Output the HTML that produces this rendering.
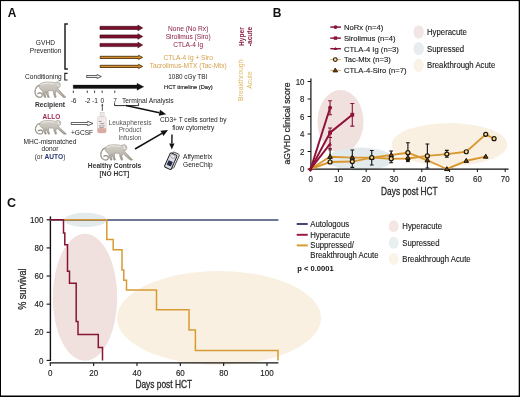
<!DOCTYPE html><html><head><meta charset="utf-8"><style>html,body{margin:0;padding:0;background:#fff;}svg{display:block;will-change:transform;}text{font-family:"Liberation Sans",sans-serif;}</style></head><body>
<svg width="520" height="397" viewBox="0 0 520 397">
<defs><linearGradient id="mk" x1="0" y1="0" x2="0" y2="1"><stop offset="0" stop-color="#d6d3cc"/><stop offset="0.55" stop-color="#c2beb5"/><stop offset="1" stop-color="#9c968c"/></linearGradient></defs>
<rect width="520" height="397" fill="#fff"/>
<text x="7.70" y="17.40" font-size="11.9" text-anchor="start" font-weight="bold" fill="#111" >A</text>
<path d="M67.9,23.9 H65.0 V68.9 H67.9" fill="none" stroke="#222" stroke-width="1.5"/>
<text x="45.40" y="45.30" font-size="6.6" text-anchor="middle" font-weight="normal" fill="#222" >GVHD</text>
<text x="45.60" y="52.60" font-size="6.6" text-anchor="middle" font-weight="normal" fill="#222" >Prevention</text>
<text x="43.40" y="79.40" font-size="6.6" text-anchor="middle" font-weight="normal" fill="#222" >Conditioning</text>
<path d="M67.6,73.4 H64.8 V80.0 H67.6" fill="none" stroke="#222" stroke-width="1.1"/>
<path d="M100.0,26.299999999999997 L137.89999999999998,26.299999999999997 L137.89999999999998,25.099999999999998 L142.7,27.9 L137.89999999999998,30.7 L137.89999999999998,29.5 L100.0,29.5 Z" fill="#7a0f2e" stroke="#3a0814" stroke-width="0.6" stroke-linejoin="miter"/>
<path d="M100.0,34.9 L137.89999999999998,34.9 L137.89999999999998,33.7 L142.7,36.5 L137.89999999999998,39.3 L137.89999999999998,38.1 L100.0,38.1 Z" fill="#7a0f2e" stroke="#3a0814" stroke-width="0.6" stroke-linejoin="miter"/>
<path d="M100.0,43.4 L137.89999999999998,43.4 L137.89999999999998,42.2 L142.7,45.0 L137.89999999999998,47.8 L137.89999999999998,46.6 L100.0,46.6 Z" fill="#7a0f2e" stroke="#3a0814" stroke-width="0.6" stroke-linejoin="miter"/>
<path d="M100.2,56.3 L138.6,56.3 L138.6,55.3 L142.6,57.4 L138.6,59.5 L138.6,58.5 L100.2,58.5 Z" fill="#d4902c" stroke="#4a2c08" stroke-width="0.85" stroke-linejoin="miter"/>
<path d="M100.2,65.30000000000001 L138.6,65.30000000000001 L138.6,64.30000000000001 L142.6,66.4 L138.6,68.5 L138.6,67.5 L100.2,67.5 Z" fill="#d4902c" stroke="#4a2c08" stroke-width="0.85" stroke-linejoin="miter"/>
<path d="M86.6,75.5 L97.0,75.5 L97.0,74.5 L101.4,76.5 L97.0,78.5 L97.0,77.5 L86.6,77.5 Z" fill="#eee" stroke="#222" stroke-width="0.7" stroke-linejoin="miter"/>
<path d="M73.2,85.05 L137.0,85.05 L137.0,83.3 L143.8,86.8 L137.0,90.3 L137.0,88.55 L73.2,88.55 Z" fill="#111" stroke="#111" stroke-width="0.3" stroke-linejoin="miter"/>
<line x1="73.3" y1="90.6" x2="73.3" y2="92.9" stroke="#222" stroke-width="0.9"/>
<line x1="87.3" y1="90.6" x2="87.3" y2="92.9" stroke="#222" stroke-width="0.9"/>
<line x1="94.6" y1="90.6" x2="94.6" y2="92.9" stroke="#222" stroke-width="0.9"/>
<line x1="102.2" y1="90.6" x2="102.2" y2="92.9" stroke="#222" stroke-width="0.9"/>
<line x1="114.8" y1="90.6" x2="114.8" y2="92.9" stroke="#222" stroke-width="0.9"/>
<text x="73.60" y="103.00" font-size="6.6" text-anchor="middle" font-weight="normal" fill="#222" >-6</text>
<text x="87.60" y="103.00" font-size="6.6" text-anchor="middle" font-weight="normal" fill="#222" >-2</text>
<text x="95.00" y="103.00" font-size="6.6" text-anchor="middle" font-weight="normal" fill="#222" >-1</text>
<text x="102.40" y="103.00" font-size="6.6" text-anchor="middle" font-weight="normal" fill="#222" >0</text>
<text x="115.00" y="103.00" font-size="6.6" text-anchor="middle" font-weight="normal" fill="#222" >7</text>
<text x="122.00" y="102.60" font-size="6.7" text-anchor="start" font-weight="normal" fill="#222" >Terminal Analysis</text>
<path d="M114.6,103.2 V105.6 H138.6 V103.2" fill="none" stroke="#111" stroke-width="0.9"/>
<line x1="126.0" y1="105.4" x2="159.36" y2="112.70" stroke="#111" stroke-width="1.5"/>
<path d="M166.2,114.2 L158.72,115.63 L160.00,109.77 Z" fill="#111"/>
<text x="188.20" y="30.80" font-size="6.6" text-anchor="middle" font-weight="normal" fill="#8a1d45" >None (No Rx)</text>
<text x="188.20" y="39.00" font-size="6.6" text-anchor="middle" font-weight="normal" fill="#8a1d45" >Sirolimus (Siro)</text>
<text x="188.20" y="47.40" font-size="6.6" text-anchor="middle" font-weight="normal" fill="#8a1d45" >CTLA-4 Ig</text>
<text x="188.20" y="59.80" font-size="6.6" text-anchor="middle" font-weight="normal" fill="#d5a04a" >CTLA-4 Ig + Siro</text>
<text x="188.20" y="67.80" font-size="6.6" text-anchor="middle" font-weight="normal" fill="#d5a04a" >Tacrolimus-MTX (Tac-Mtx)</text>
<text x="187.80" y="78.80" font-size="6.4" text-anchor="middle" font-weight="normal" fill="#222" >1080 cGy TBI</text>
<text x="188.40" y="88.90" font-size="5.75" text-anchor="middle" font-weight="normal" fill="#1a1a1a" stroke="#1a1a1a" stroke-width="0.15">HCT timeline (Day)</text>
<text transform="translate(244.2,36.6) rotate(-90)" font-size="6.6" font-weight="bold" text-anchor="middle" fill="#8a1d45">Hyper</text>
<text transform="translate(252.0,36.5) rotate(-90)" font-size="6.6" font-weight="bold" text-anchor="middle" fill="#8a1d45">-acute</text>
<text transform="translate(242.9,80.2) rotate(-90)" font-size="6.9" text-anchor="middle" fill="#dfb660">Breakthrough</text>
<text transform="translate(251.9,80.0) rotate(-90)" font-size="6.8" text-anchor="middle" fill="#dfb660">Acute</text>
<g transform="translate(34.6,81.8) scale(0.9636,1.0125)">
<g>
<path d="M5.0,3.6 C2.6,3.6 0.6,6.5 0.4,9.8 C0.3,13 2.4,15.4 5.5,15.4 C7.6,15.3 8.6,13.6 7.6,12 C6.8,10.8 4.8,10.6 3.4,11.6" fill="none" stroke="#8d877c" stroke-width="1.25" stroke-linecap="round"/>
<path d="M5.0,3.6 C2.6,3.6 0.6,6.5 0.4,9.8 C0.3,13 2.4,15.4 5.5,15.4 C7.6,15.3 8.6,13.6 7.6,12" fill="none" stroke="#cbc7be" stroke-width="0.45" stroke-linecap="round"/>
<path d="M4.6,3.2 C6.5,0.8 10,0 14,0.2 C17,0.3 19.5,0.4 21.5,1.0 C22,0.2 23.5,-0.2 25,0.3 C26.6,0.9 27,3 26.3,4.6 C25.8,5.6 24.6,6 23.6,5.8 L24.6,7.2 L28.5,11.2 L31.6,14.4 C32.6,14.8 32.6,15.5 31.8,15.6 L30.0,15.5 L26.4,12.4 L22.6,8.9 L21.6,11.5 L22.4,15.2 L21.0,15.6 L19.6,11.8 L19.2,8.7 C17.5,8.8 15.5,8.8 14.0,8.6 L14.3,12.5 L15.2,15.3 L13.8,15.6 L12.4,12.3 L11.8,9.6 L11.0,12.4 L11.8,15.3 L10.4,15.6 L8.8,12.2 L8.2,9.0 C6.4,8.2 5.0,6.4 4.6,4.4 Z" fill="url(#mk)" stroke="#8a8479" stroke-width="0.5" stroke-linejoin="round"/>
<path d="M7,2.6 C10,1.2 15,1.1 20,1.8" fill="none" stroke="#e6e3dd" stroke-width="1.3" stroke-linecap="round"/>
<ellipse cx="24.6" cy="3.0" rx="1.2" ry="1.7" fill="#ebe9e4"/>
<circle cx="25.2" cy="2.4" r="0.45" fill="#555"/>
</g></g>
<text x="50.00" y="107.20" font-size="6.7" text-anchor="middle" font-weight="bold" fill="#333" >Recipient</text>
<text x="51.40" y="118.90" font-size="6.5" text-anchor="middle" font-weight="bold" fill="#a02a50" >ALLO</text>
<g transform="translate(35.0,120.4) scale(0.9667,0.8875)">
<g>
<path d="M5.0,3.6 C2.6,3.6 0.6,6.5 0.4,9.8 C0.3,13 2.4,15.4 5.5,15.4 C7.6,15.3 8.6,13.6 7.6,12 C6.8,10.8 4.8,10.6 3.4,11.6" fill="none" stroke="#8d877c" stroke-width="1.25" stroke-linecap="round"/>
<path d="M5.0,3.6 C2.6,3.6 0.6,6.5 0.4,9.8 C0.3,13 2.4,15.4 5.5,15.4 C7.6,15.3 8.6,13.6 7.6,12" fill="none" stroke="#cbc7be" stroke-width="0.45" stroke-linecap="round"/>
<path d="M4.6,3.2 C6.5,0.8 10,0 14,0.2 C17,0.3 19.5,0.4 21.5,1.0 C22,0.2 23.5,-0.2 25,0.3 C26.6,0.9 27,3 26.3,4.6 C25.8,5.6 24.6,6 23.6,5.8 L24.6,7.2 L28.5,11.2 L31.6,14.4 C32.6,14.8 32.6,15.5 31.8,15.6 L30.0,15.5 L26.4,12.4 L22.6,8.9 L21.6,11.5 L22.4,15.2 L21.0,15.6 L19.6,11.8 L19.2,8.7 C17.5,8.8 15.5,8.8 14.0,8.6 L14.3,12.5 L15.2,15.3 L13.8,15.6 L12.4,12.3 L11.8,9.6 L11.0,12.4 L11.8,15.3 L10.4,15.6 L8.8,12.2 L8.2,9.0 C6.4,8.2 5.0,6.4 4.6,4.4 Z" fill="url(#mk)" stroke="#8a8479" stroke-width="0.5" stroke-linejoin="round"/>
<path d="M7,2.6 C10,1.2 15,1.1 20,1.8" fill="none" stroke="#e6e3dd" stroke-width="1.3" stroke-linecap="round"/>
<ellipse cx="24.6" cy="3.0" rx="1.2" ry="1.7" fill="#ebe9e4"/>
<circle cx="25.2" cy="2.4" r="0.45" fill="#555"/>
</g></g>
<text x="50.00" y="144.20" font-size="6.6" text-anchor="middle" font-weight="normal" fill="#222" >MHC-mismatched</text>
<text x="50.00" y="151.20" font-size="6.6" text-anchor="middle" font-weight="normal" fill="#222" >donor</text>
<text x="50" y="159.2" font-size="6.6" text-anchor="middle" fill="#333">(or <tspan font-weight="bold" fill="#2b3675">AUTO</tspan>)</text>
<path d="M71.2,122.5 L87.6,122.5 L87.6,121.3 L93.0,123.5 L87.6,125.7 L87.6,124.5 L71.2,124.5 Z" fill="#fff" stroke="#111" stroke-width="0.65" stroke-linejoin="miter"/>
<text x="82.00" y="134.80" font-size="6.6" text-anchor="middle" font-weight="normal" fill="#222" >+GCSF</text>
<g>
<rect x="100.1" y="112.2" width="4" height="4.6" fill="#eeeaea" stroke="#c4b8b6" stroke-width="0.4"/>
<rect x="97.5" y="116.6" width="8.6" height="16.3" rx="1.6" fill="#f1eaea" stroke="#cdbdb9" stroke-width="0.45"/>
<path d="M97.5,128.2 H106.1 V131.3 Q106.1,132.9 104.5,132.9 H99.1 Q97.5,132.9 97.5,131.3 Z" fill="#d9ab9e"/>
<path d="M98.9,121.4 H101.6 M100.2,123.6 H104.2 M99.0,125.9 H101.4 M101.9,125.9 H104.6 M99.4,127.6 H103.8" stroke="#6e6464" stroke-width="0.6"/>
</g>
<line x1="102.3" y1="110.8" x2="102.30" y2="105.80" stroke="#222" stroke-width="0.8"/>
<path d="M102.3,103.6 L103.40,105.80 L101.20,105.80 Z" fill="#222"/>
<text x="130.00" y="124.60" font-size="6.6" text-anchor="middle" font-weight="normal" fill="#555" >Leukapheresis</text>
<text x="130.00" y="132.30" font-size="6.6" text-anchor="middle" font-weight="normal" fill="#555" >Product</text>
<text x="130.00" y="140.10" font-size="6.6" text-anchor="middle" font-weight="normal" fill="#555" >Infusion</text>
<g transform="translate(100.4,144.6) scale(0.9939,1.0000)">
<g>
<path d="M5.0,3.6 C2.6,3.6 0.6,6.5 0.4,9.8 C0.3,13 2.4,15.4 5.5,15.4 C7.6,15.3 8.6,13.6 7.6,12 C6.8,10.8 4.8,10.6 3.4,11.6" fill="none" stroke="#8d877c" stroke-width="1.25" stroke-linecap="round"/>
<path d="M5.0,3.6 C2.6,3.6 0.6,6.5 0.4,9.8 C0.3,13 2.4,15.4 5.5,15.4 C7.6,15.3 8.6,13.6 7.6,12" fill="none" stroke="#cbc7be" stroke-width="0.45" stroke-linecap="round"/>
<path d="M4.6,3.2 C6.5,0.8 10,0 14,0.2 C17,0.3 19.5,0.4 21.5,1.0 C22,0.2 23.5,-0.2 25,0.3 C26.6,0.9 27,3 26.3,4.6 C25.8,5.6 24.6,6 23.6,5.8 L24.6,7.2 L28.5,11.2 L31.6,14.4 C32.6,14.8 32.6,15.5 31.8,15.6 L30.0,15.5 L26.4,12.4 L22.6,8.9 L21.6,11.5 L22.4,15.2 L21.0,15.6 L19.6,11.8 L19.2,8.7 C17.5,8.8 15.5,8.8 14.0,8.6 L14.3,12.5 L15.2,15.3 L13.8,15.6 L12.4,12.3 L11.8,9.6 L11.0,12.4 L11.8,15.3 L10.4,15.6 L8.8,12.2 L8.2,9.0 C6.4,8.2 5.0,6.4 4.6,4.4 Z" fill="url(#mk)" stroke="#8a8479" stroke-width="0.5" stroke-linejoin="round"/>
<path d="M7,2.6 C10,1.2 15,1.1 20,1.8" fill="none" stroke="#e6e3dd" stroke-width="1.3" stroke-linecap="round"/>
<ellipse cx="24.6" cy="3.0" rx="1.2" ry="1.7" fill="#ebe9e4"/>
<circle cx="25.2" cy="2.4" r="0.45" fill="#555"/>
</g></g>
<text x="114.60" y="168.00" font-size="6.7" text-anchor="middle" font-weight="bold" fill="#333" >Healthy Controls</text>
<text x="114.40" y="175.90" font-size="6.6" text-anchor="middle" font-weight="bold" fill="#333" >[NO HCT]</text>
<line x1="135.0" y1="149.0" x2="161.94" y2="133.41" stroke="#111" stroke-width="1.5"/>
<path d="M168.0,129.9 L163.44,136.00 L160.44,130.81 Z" fill="#111"/>
<text x="193.20" y="121.60" font-size="6.6" text-anchor="middle" font-weight="normal" fill="#222" >CD3+ T cells sorted by</text>
<text x="193.20" y="129.70" font-size="6.6" text-anchor="middle" font-weight="normal" fill="#222" >flow cytometry</text>
<line x1="172.0" y1="134.4" x2="171.88" y2="143.50" stroke="#111" stroke-width="1.4"/>
<path d="M171.8,149.5 L169.28,143.47 L174.48,143.53 Z" fill="#111"/>
<g transform="translate(171.8,161.0) rotate(24)">
<rect x="-2.6" y="-9.0" width="7.2" height="15.2" rx="1.2" fill="#eceef3" stroke="#333" stroke-width="0.8"/>
<rect x="-4.6" y="-7.2" width="7.4" height="15.6" rx="1.2" fill="#dadde6" stroke="#1e1e1e" stroke-width="0.95"/>
<rect x="-3.2" y="0.6" width="4.6" height="4.8" fill="#262b45"/>
<ellipse cx="-0.9" cy="-4.6" rx="2.4" ry="1.5" fill="#f6f6f6" stroke="#666" stroke-width="0.5"/>
</g>
<text x="183.00" y="158.80" font-size="6.6" text-anchor="start" font-weight="normal" fill="#222" >Affymetrix</text>
<text x="183.00" y="166.90" font-size="6.6" text-anchor="start" font-weight="normal" fill="#222" >GeneChip</text>
<text x="272.80" y="16.90" font-size="12" text-anchor="start" font-weight="bold" fill="#111" >B</text>
<ellipse cx="340.5" cy="121.5" rx="23" ry="31.5" fill="#f0e0de"/>
<ellipse cx="360" cy="159" rx="33" ry="11.5" fill="#e3eaeb"/>
<ellipse cx="449.5" cy="144.5" rx="57.7" ry="21.5" fill="#f9f0e1"/>
<line x1="310.9" y1="78.6" x2="310.9" y2="169.6" stroke="#111" stroke-width="1.2"/>
<line x1="310.3" y1="169.1" x2="508.6" y2="169.1" stroke="#111" stroke-width="1.2"/>
<line x1="307.6" y1="169.00" x2="310.9" y2="169.00" stroke="#111" stroke-width="1"/>
<text transform="translate(304.40,172.00) scale(0.93,1)" font-size="8.5" text-anchor="end" font-weight="normal" fill="#222" stroke="#222" stroke-width="0.15">0</text>
<line x1="307.6" y1="151.50" x2="310.9" y2="151.50" stroke="#111" stroke-width="1"/>
<text transform="translate(304.40,154.50) scale(0.93,1)" font-size="8.5" text-anchor="end" font-weight="normal" fill="#222" stroke="#222" stroke-width="0.15">2</text>
<line x1="307.6" y1="134.00" x2="310.9" y2="134.00" stroke="#111" stroke-width="1"/>
<text transform="translate(304.40,137.00) scale(0.93,1)" font-size="8.5" text-anchor="end" font-weight="normal" fill="#222" stroke="#222" stroke-width="0.15">4</text>
<line x1="307.6" y1="116.50" x2="310.9" y2="116.50" stroke="#111" stroke-width="1"/>
<text transform="translate(304.40,119.50) scale(0.93,1)" font-size="8.5" text-anchor="end" font-weight="normal" fill="#222" stroke="#222" stroke-width="0.15">6</text>
<line x1="307.6" y1="99.00" x2="310.9" y2="99.00" stroke="#111" stroke-width="1"/>
<text transform="translate(304.40,102.00) scale(0.93,1)" font-size="8.5" text-anchor="end" font-weight="normal" fill="#222" stroke="#222" stroke-width="0.15">8</text>
<line x1="307.6" y1="81.50" x2="310.9" y2="81.50" stroke="#111" stroke-width="1"/>
<text transform="translate(304.40,84.50) scale(0.93,1)" font-size="8.5" text-anchor="end" font-weight="normal" fill="#222" stroke="#222" stroke-width="0.15">10</text>
<text transform="translate(310.60,182.10) scale(0.93,1)" font-size="8.5" text-anchor="middle" font-weight="normal" fill="#222" stroke="#222" stroke-width="0.15">0</text>
<line x1="338.40" y1="169.1" x2="338.40" y2="172" stroke="#111" stroke-width="1"/>
<text transform="translate(338.40,182.10) scale(0.93,1)" font-size="8.5" text-anchor="middle" font-weight="normal" fill="#222" stroke="#222" stroke-width="0.15">10</text>
<line x1="366.20" y1="169.1" x2="366.20" y2="172" stroke="#111" stroke-width="1"/>
<text transform="translate(366.20,182.10) scale(0.93,1)" font-size="8.5" text-anchor="middle" font-weight="normal" fill="#222" stroke="#222" stroke-width="0.15">20</text>
<line x1="394.00" y1="169.1" x2="394.00" y2="172" stroke="#111" stroke-width="1"/>
<text transform="translate(394.00,182.10) scale(0.93,1)" font-size="8.5" text-anchor="middle" font-weight="normal" fill="#222" stroke="#222" stroke-width="0.15">30</text>
<line x1="421.80" y1="169.1" x2="421.80" y2="172" stroke="#111" stroke-width="1"/>
<text transform="translate(421.80,182.10) scale(0.93,1)" font-size="8.5" text-anchor="middle" font-weight="normal" fill="#222" stroke="#222" stroke-width="0.15">40</text>
<line x1="449.60" y1="169.1" x2="449.60" y2="172" stroke="#111" stroke-width="1"/>
<text transform="translate(449.60,182.10) scale(0.93,1)" font-size="8.5" text-anchor="middle" font-weight="normal" fill="#222" stroke="#222" stroke-width="0.15">50</text>
<line x1="477.40" y1="169.1" x2="477.40" y2="172" stroke="#111" stroke-width="1"/>
<text transform="translate(477.40,182.10) scale(0.93,1)" font-size="8.5" text-anchor="middle" font-weight="normal" fill="#222" stroke="#222" stroke-width="0.15">60</text>
<line x1="505.20" y1="169.1" x2="505.20" y2="172" stroke="#111" stroke-width="1"/>
<text transform="translate(505.20,182.10) scale(0.93,1)" font-size="8.5" text-anchor="middle" font-weight="normal" fill="#222" stroke="#222" stroke-width="0.15">70</text>
<text x="409.40" y="195.40" font-size="10.3" text-anchor="middle" font-weight="normal" fill="#2a2a2a" textLength="56.6" lengthAdjust="spacingAndGlyphs" stroke="#2a2a2a" stroke-width="0.3">Days post HCT</text>
<text transform="translate(290.4,123.5) rotate(-90)" font-size="8.7" text-anchor="middle" fill="#2a2a2a" stroke="#2a2a2a" stroke-width="0.25" textLength="82" lengthAdjust="spacingAndGlyphs">aGVHD clinical score</text>
<polyline points="310.60,169.00 330.06,156.75 352.30,157.62 371.76,157.62 391.22,155.00 407.90,152.72 427.36,160.25 446.82,169.00 466.28,160.78 485.74,156.57" fill="none" stroke="#d9982f" stroke-width="1.9" stroke-linejoin="round"/>
<polyline points="310.60,169.00 330.06,162.00 352.30,161.56 371.76,157.62 391.22,158.76 407.90,158.50 427.36,155.88 446.82,154.12 466.28,151.76 485.74,134.35 494.08,138.72" fill="none" stroke="#d9982f" stroke-width="1.9" stroke-linejoin="round"/>
<path d="M330.06,148.8 V163.0 M328.16,148.8 H331.96 M328.16,163.0 H331.96" stroke="#111" stroke-width="1.1" fill="none"/>
<path d="M352.30,150.0 V167.4 M350.40,150.0 H354.20 M350.40,167.4 H354.20" stroke="#111" stroke-width="1.1" fill="none"/>
<path d="M371.76,150.5 V165.0 M369.86,150.5 H373.66 M369.86,165.0 H373.66" stroke="#111" stroke-width="1.1" fill="none"/>
<path d="M391.22,151.0 V162.7 M389.32,151.0 H393.12 M389.32,162.7 H393.12" stroke="#111" stroke-width="1.1" fill="none"/>
<path d="M407.90,142.7 V160.0 M406.00,142.7 H409.80 M406.00,160.0 H409.80" stroke="#111" stroke-width="1.1" fill="none"/>
<path d="M427.36,144.0 V168.0 M425.46,144.0 H429.26 M425.46,168.0 H429.26" stroke="#111" stroke-width="1.1" fill="none"/>
<path d="M446.82,150.4 V157.3 M444.92,150.4 H448.72 M444.92,157.3 H448.72" stroke="#111" stroke-width="1.1" fill="none"/>
<rect x="406.10" y="158.91" width="3.6" height="3.2" fill="#1e1405"/>
<rect x="350.50" y="156.46" width="3.6" height="3.2" fill="#1e1405"/>
<path d="M330.06,154.35 L332.36,158.35 L327.76,158.35 Z" fill="#5a4420" stroke="#1e1405" stroke-width="1.0" stroke-linejoin="round"/>
<path d="M352.30,155.22 L354.60,159.22 L350.00,159.22 Z" fill="#5a4420" stroke="#1e1405" stroke-width="1.0" stroke-linejoin="round"/>
<path d="M371.76,155.22 L374.06,159.22 L369.46,159.22 Z" fill="#5a4420" stroke="#1e1405" stroke-width="1.0" stroke-linejoin="round"/>
<path d="M391.22,152.60 L393.52,156.60 L388.92,156.60 Z" fill="#5a4420" stroke="#1e1405" stroke-width="1.0" stroke-linejoin="round"/>
<path d="M427.36,157.85 L429.66,161.85 L425.06,161.85 Z" fill="#5a4420" stroke="#1e1405" stroke-width="1.0" stroke-linejoin="round"/>
<path d="M446.82,166.60 L449.12,170.60 L444.52,170.60 Z" fill="#5a4420" stroke="#1e1405" stroke-width="1.0" stroke-linejoin="round"/>
<path d="M466.28,158.38 L468.58,162.38 L463.98,162.38 Z" fill="#5a4420" stroke="#1e1405" stroke-width="1.0" stroke-linejoin="round"/>
<path d="M485.74,154.17 L488.04,158.17 L483.44,158.17 Z" fill="#5a4420" stroke="#1e1405" stroke-width="1.0" stroke-linejoin="round"/>
<path d="M407.90,155.22 L410.20,159.22 L405.60,159.22 Z" fill="#5a4420" stroke="#1e1405" stroke-width="1.0" stroke-linejoin="round"/>
<circle cx="330.06" cy="162.00" r="2.0" fill="#f3da9e" stroke="#1e1405" stroke-width="1.2"/>
<circle cx="352.30" cy="161.56" r="2.0" fill="#f3da9e" stroke="#1e1405" stroke-width="1.2"/>
<circle cx="371.76" cy="157.62" r="2.0" fill="#f3da9e" stroke="#1e1405" stroke-width="1.2"/>
<circle cx="391.22" cy="158.76" r="2.0" fill="#f3da9e" stroke="#1e1405" stroke-width="1.2"/>
<circle cx="427.36" cy="155.88" r="2.0" fill="#f3da9e" stroke="#1e1405" stroke-width="1.2"/>
<circle cx="446.82" cy="154.12" r="2.0" fill="#f3da9e" stroke="#1e1405" stroke-width="1.2"/>
<circle cx="466.28" cy="151.76" r="2.0" fill="#f3da9e" stroke="#1e1405" stroke-width="1.2"/>
<circle cx="485.74" cy="134.35" r="2.0" fill="#f3da9e" stroke="#1e1405" stroke-width="1.2"/>
<circle cx="494.08" cy="138.72" r="2.0" fill="#f3da9e" stroke="#1e1405" stroke-width="1.2"/>
<circle cx="407.90" cy="152.72" r="2.0" fill="#f3da9e" stroke="#1e1405" stroke-width="1.2"/>
<polyline points="310.60,169.00 330.06,107.75" fill="none" stroke="#901238" stroke-width="2.0" stroke-linejoin="round"/>
<polyline points="310.60,169.00 330.06,132.60 352.30,114.75" fill="none" stroke="#901238" stroke-width="2.0" stroke-linejoin="round"/>
<polyline points="310.60,169.00 330.06,143.97" fill="none" stroke="#901238" stroke-width="2.0" stroke-linejoin="round"/>
<path d="M330.06,100.7 V114.8 M328.06,100.7 H332.06 M328.06,114.8 H332.06" stroke="#901238" stroke-width="1.1" fill="none"/>
<path d="M352.30,103.5 V126.1 M350.30,103.5 H354.30 M350.30,126.1 H354.30" stroke="#901238" stroke-width="1.1" fill="none"/>
<path d="M330.06,128.0 V137.5 M328.06,128.0 H332.06 M328.06,137.5 H332.06" stroke="#901238" stroke-width="1.1" fill="none"/>
<path d="M330.06,137.5 V150.0 M328.46,137.5 H331.66 M328.46,150.0 H331.66" stroke="#901238" stroke-width="1.1" fill="none"/>
<circle cx="330.06" cy="107.75" r="2.0" fill="#901238"/>
<rect x="328.16" y="130.70" width="3.8" height="3.8" fill="#901238"/>
<rect x="350.40" y="112.85" width="3.8" height="3.8" fill="#901238"/>
<path d="M330.06,141.97 L331.96,145.38 L328.16,145.38 Z" fill="#901238"/>
<path d="M310.4,166.8 L312.8,169.4 L310.4,172 L308,169.4 Z" fill="#8a1030"/>
<line x1="330.3" y1="27.1" x2="340.9" y2="27.1" stroke="#8a1436" stroke-width="1.5"/>
<circle cx="335.5" cy="27.1" r="1.9" fill="#8a1436"/>
<text transform="translate(343.90,29.90) scale(0.95,1)" font-size="8.05" text-anchor="start" font-weight="normal" fill="#1a1a1a" stroke="#1a1a1a" stroke-width="0.12">NoRx (n=4)</text>
<line x1="330.3" y1="38.1" x2="340.9" y2="38.1" stroke="#8a1436" stroke-width="1.5"/>
<rect x="333.8" y="36.4" width="3.4" height="3.4" fill="#8a1436"/>
<text transform="translate(343.90,40.90) scale(0.95,1)" font-size="8.05" text-anchor="start" font-weight="normal" fill="#1a1a1a" stroke="#1a1a1a" stroke-width="0.12">Sirolimus (n=4)</text>
<line x1="330.3" y1="48.7" x2="340.9" y2="48.7" stroke="#8a1436" stroke-width="1.5"/>
<path d="M335.5,46.900000000000006 L337.3,49.900000000000006 L333.7,49.900000000000006 Z" fill="#8a1436"/>
<text transform="translate(343.90,51.50) scale(0.95,1)" font-size="8.05" text-anchor="start" font-weight="normal" fill="#1a1a1a" stroke="#1a1a1a" stroke-width="0.12">CTLA-4 Ig (n=3)</text>
<line x1="330.3" y1="59.6" x2="340.9" y2="59.6" stroke="#e6b466" stroke-width="1.1"/>
<circle cx="335.3" cy="59.6" r="1.9" fill="#f3dcae" stroke="#2a1a05" stroke-width="1.1"/>
<text transform="translate(343.90,61.70) scale(0.95,1)" font-size="8.05" text-anchor="start" font-weight="normal" fill="#1a1a1a" stroke="#1a1a1a" stroke-width="0.12">Tac-Mtx (n=3)</text>
<line x1="330.3" y1="70.4" x2="340.9" y2="70.4" stroke="#e6b466" stroke-width="1.1"/>
<path d="M335.3,68.10000000000001 L337.6,71.9 L333.0,71.9 Z" fill="#6a4a1a" stroke="#2a1a05" stroke-width="0.9" stroke-linejoin="round"/>
<text transform="translate(343.90,72.50) scale(0.95,1)" font-size="8.05" text-anchor="start" font-weight="normal" fill="#1a1a1a" stroke="#1a1a1a" stroke-width="0.12">CTLA-4-Siro (n=7)</text>
<ellipse cx="418.7" cy="32.0" rx="5.2" ry="6.6" fill="#f0e0de" opacity="0.85"/>
<text transform="translate(427.00,34.80) scale(0.95,1)" font-size="8.2" text-anchor="start" font-weight="normal" fill="#1a1a1a" stroke="#1a1a1a" stroke-width="0.12">Hyperacute</text>
<ellipse cx="418.7" cy="48.7" rx="5.2" ry="6.6" fill="#e3eaeb" opacity="0.85"/>
<text transform="translate(427.00,51.50) scale(0.95,1)" font-size="8.2" text-anchor="start" font-weight="normal" fill="#1a1a1a" stroke="#1a1a1a" stroke-width="0.12">Supressed</text>
<ellipse cx="418.7" cy="65.3" rx="5.2" ry="6.6" fill="#f9f0e1" opacity="0.85"/>
<text transform="translate(427.00,68.10) scale(0.95,1)" font-size="8.2" text-anchor="start" font-weight="normal" fill="#1a1a1a" stroke="#1a1a1a" stroke-width="0.12">Breakthrough Acute</text>
<text x="7.00" y="206.80" font-size="12.5" text-anchor="start" font-weight="bold" fill="#111" >C</text>
<ellipse cx="85" cy="297.3" rx="32.2" ry="63.5" fill="#f0e0de"/>
<ellipse cx="85.3" cy="220" rx="21.3" ry="7.2" fill="#e3eaeb"/>
<ellipse cx="219" cy="318" rx="102" ry="47" fill="#f9f0e1"/>
<line x1="50.4" y1="216.4" x2="50.4" y2="361" stroke="#111" stroke-width="1.4"/>
<line x1="49.7" y1="362.9" x2="278.4" y2="362.9" stroke="#111" stroke-width="1.4"/>
<line x1="46.6" y1="360.40" x2="50.4" y2="360.40" stroke="#111" stroke-width="1.1"/>
<text transform="translate(43.40,363.50) scale(0.93,1)" font-size="8.6" text-anchor="end" font-weight="normal" fill="#222" stroke="#222" stroke-width="0.15">0</text>
<line x1="46.6" y1="332.28" x2="50.4" y2="332.28" stroke="#111" stroke-width="1.1"/>
<text transform="translate(43.40,335.38) scale(0.93,1)" font-size="8.6" text-anchor="end" font-weight="normal" fill="#222" stroke="#222" stroke-width="0.15">20</text>
<line x1="46.6" y1="304.16" x2="50.4" y2="304.16" stroke="#111" stroke-width="1.1"/>
<text transform="translate(43.40,307.26) scale(0.93,1)" font-size="8.6" text-anchor="end" font-weight="normal" fill="#222" stroke="#222" stroke-width="0.15">40</text>
<line x1="46.6" y1="276.04" x2="50.4" y2="276.04" stroke="#111" stroke-width="1.1"/>
<text transform="translate(43.40,279.14) scale(0.93,1)" font-size="8.6" text-anchor="end" font-weight="normal" fill="#222" stroke="#222" stroke-width="0.15">60</text>
<line x1="46.6" y1="247.92" x2="50.4" y2="247.92" stroke="#111" stroke-width="1.1"/>
<text transform="translate(43.40,251.02) scale(0.93,1)" font-size="8.6" text-anchor="end" font-weight="normal" fill="#222" stroke="#222" stroke-width="0.15">80</text>
<line x1="46.6" y1="219.80" x2="50.4" y2="219.80" stroke="#111" stroke-width="1.1"/>
<text transform="translate(43.40,222.90) scale(0.93,1)" font-size="8.6" text-anchor="end" font-weight="normal" fill="#222" stroke="#222" stroke-width="0.15">100</text>
<line x1="50.30" y1="362.9" x2="50.30" y2="366.0" stroke="#111" stroke-width="1.1"/>
<text transform="translate(50.30,375.60) scale(0.93,1)" font-size="8.6" text-anchor="middle" font-weight="normal" fill="#222" stroke="#222" stroke-width="0.15">0</text>
<line x1="93.64" y1="362.9" x2="93.64" y2="366.0" stroke="#111" stroke-width="1.1"/>
<text transform="translate(93.64,375.60) scale(0.93,1)" font-size="8.6" text-anchor="middle" font-weight="normal" fill="#222" stroke="#222" stroke-width="0.15">20</text>
<line x1="136.98" y1="362.9" x2="136.98" y2="366.0" stroke="#111" stroke-width="1.1"/>
<text transform="translate(136.98,375.60) scale(0.93,1)" font-size="8.6" text-anchor="middle" font-weight="normal" fill="#222" stroke="#222" stroke-width="0.15">40</text>
<line x1="180.32" y1="362.9" x2="180.32" y2="366.0" stroke="#111" stroke-width="1.1"/>
<text transform="translate(180.32,375.60) scale(0.93,1)" font-size="8.6" text-anchor="middle" font-weight="normal" fill="#222" stroke="#222" stroke-width="0.15">60</text>
<line x1="223.66" y1="362.9" x2="223.66" y2="366.0" stroke="#111" stroke-width="1.1"/>
<text transform="translate(223.66,375.60) scale(0.93,1)" font-size="8.6" text-anchor="middle" font-weight="normal" fill="#222" stroke="#222" stroke-width="0.15">80</text>
<line x1="267.00" y1="362.9" x2="267.00" y2="366.0" stroke="#111" stroke-width="1.1"/>
<text transform="translate(267.00,375.60) scale(0.93,1)" font-size="8.6" text-anchor="middle" font-weight="normal" fill="#222" stroke="#222" stroke-width="0.15">100</text>
<text x="163.80" y="387.60" font-size="10.4" text-anchor="middle" font-weight="normal" fill="#2a2a2a" textLength="56.8" lengthAdjust="spacingAndGlyphs" stroke="#2a2a2a" stroke-width="0.3">Days post HCT</text>
<text transform="translate(26.2,289.1) rotate(-90)" font-size="10.6" text-anchor="middle" fill="#2a2a2a" stroke="#2a2a2a" stroke-width="0.25" textLength="41.5" lengthAdjust="spacingAndGlyphs">% survival</text>
<line x1="50" y1="220.0" x2="278.4" y2="220.0" stroke="#404a70" stroke-width="1.7"/>
<path d="M63.5,219.8 H106.8 L106.80,239.50 L113.20,239.50 L113.20,249.70 L122.00,249.70 L122.00,270.10 L123.80,270.10 L123.80,280.30 L126.50,280.30 L126.50,290.00 L156.50,290.00 L156.50,309.70 L189.00,309.70 L189.00,329.90 L195.40,329.90 L195.40,350.40 L278.00,350.40 L278.00,360.40" fill="none" stroke="#d89a34" stroke-width="1.5"/>
<path d="M50.00,219.80 L63.50,219.80 L63.50,232.90 L64.80,232.90 L64.80,244.80 L67.50,244.80 L67.50,271.20 L69.50,271.20 L69.50,283.30 L76.20,283.30 L76.20,321.40 L78.00,321.40 L78.00,334.60 L98.30,334.60 L98.30,347.60 L102.50,347.60 L102.50,360.40" fill="none" stroke="#861434" stroke-width="1.5"/>
<line x1="296.7" y1="224.0" x2="307.7" y2="224.0" stroke="#404a70" stroke-width="2.0"/>
<text transform="translate(310.20,226.70) scale(0.95,1)" font-size="8.2" text-anchor="start" font-weight="normal" fill="#1a1a1a" stroke="#1a1a1a" stroke-width="0.12">Autologous</text>
<line x1="296.7" y1="234.8" x2="307.7" y2="234.8" stroke="#a01a40" stroke-width="2.0"/>
<text transform="translate(310.20,237.50) scale(0.95,1)" font-size="8.2" text-anchor="start" font-weight="normal" fill="#1a1a1a" stroke="#1a1a1a" stroke-width="0.12">Hyperacute</text>
<line x1="296.7" y1="245.4" x2="307.7" y2="245.4" stroke="#d89a34" stroke-width="2.0"/>
<text transform="translate(310.20,248.10) scale(0.95,1)" font-size="8.2" text-anchor="start" font-weight="normal" fill="#1a1a1a" stroke="#1a1a1a" stroke-width="0.12">Suppressed/</text>
<text transform="translate(310.20,258.10) scale(0.95,1)" font-size="8.2" text-anchor="start" font-weight="normal" fill="#1a1a1a" stroke="#1a1a1a" stroke-width="0.12">Breakthrough Acute</text>
<text transform="translate(297.20,270.60) scale(0.96,1)" font-size="7.9" text-anchor="start" font-weight="bold" fill="#111" >p &lt; 0.0001</text>
<ellipse cx="393.7" cy="226.2" rx="4.9" ry="6" fill="#f0e0de" opacity="0.8"/>
<text transform="translate(402.30,229.00) scale(0.95,1)" font-size="8.2" text-anchor="start" font-weight="normal" fill="#1a1a1a" stroke="#1a1a1a" stroke-width="0.12">Hyperacute</text>
<ellipse cx="393.7" cy="242.7" rx="4.9" ry="6" fill="#e3eaeb" opacity="0.8"/>
<text transform="translate(402.30,245.50) scale(0.95,1)" font-size="8.2" text-anchor="start" font-weight="normal" fill="#1a1a1a" stroke="#1a1a1a" stroke-width="0.12">Supressed</text>
<ellipse cx="393.7" cy="259.1" rx="4.9" ry="6" fill="#f9f0e1" opacity="0.8"/>
<text transform="translate(402.30,261.90) scale(0.95,1)" font-size="8.2" text-anchor="start" font-weight="normal" fill="#1a1a1a" stroke="#1a1a1a" stroke-width="0.12">Breakthrough Acute</text>
<rect x="0" y="0" width="520" height="1.1" fill="#000"/>
<rect x="0" y="0" width="1.0" height="397" fill="#000"/>
<rect x="518.7" y="0" width="1.3" height="397" fill="#000"/>
<rect x="0" y="395.5" width="520" height="1.5" fill="#000"/>
</svg></body></html>
